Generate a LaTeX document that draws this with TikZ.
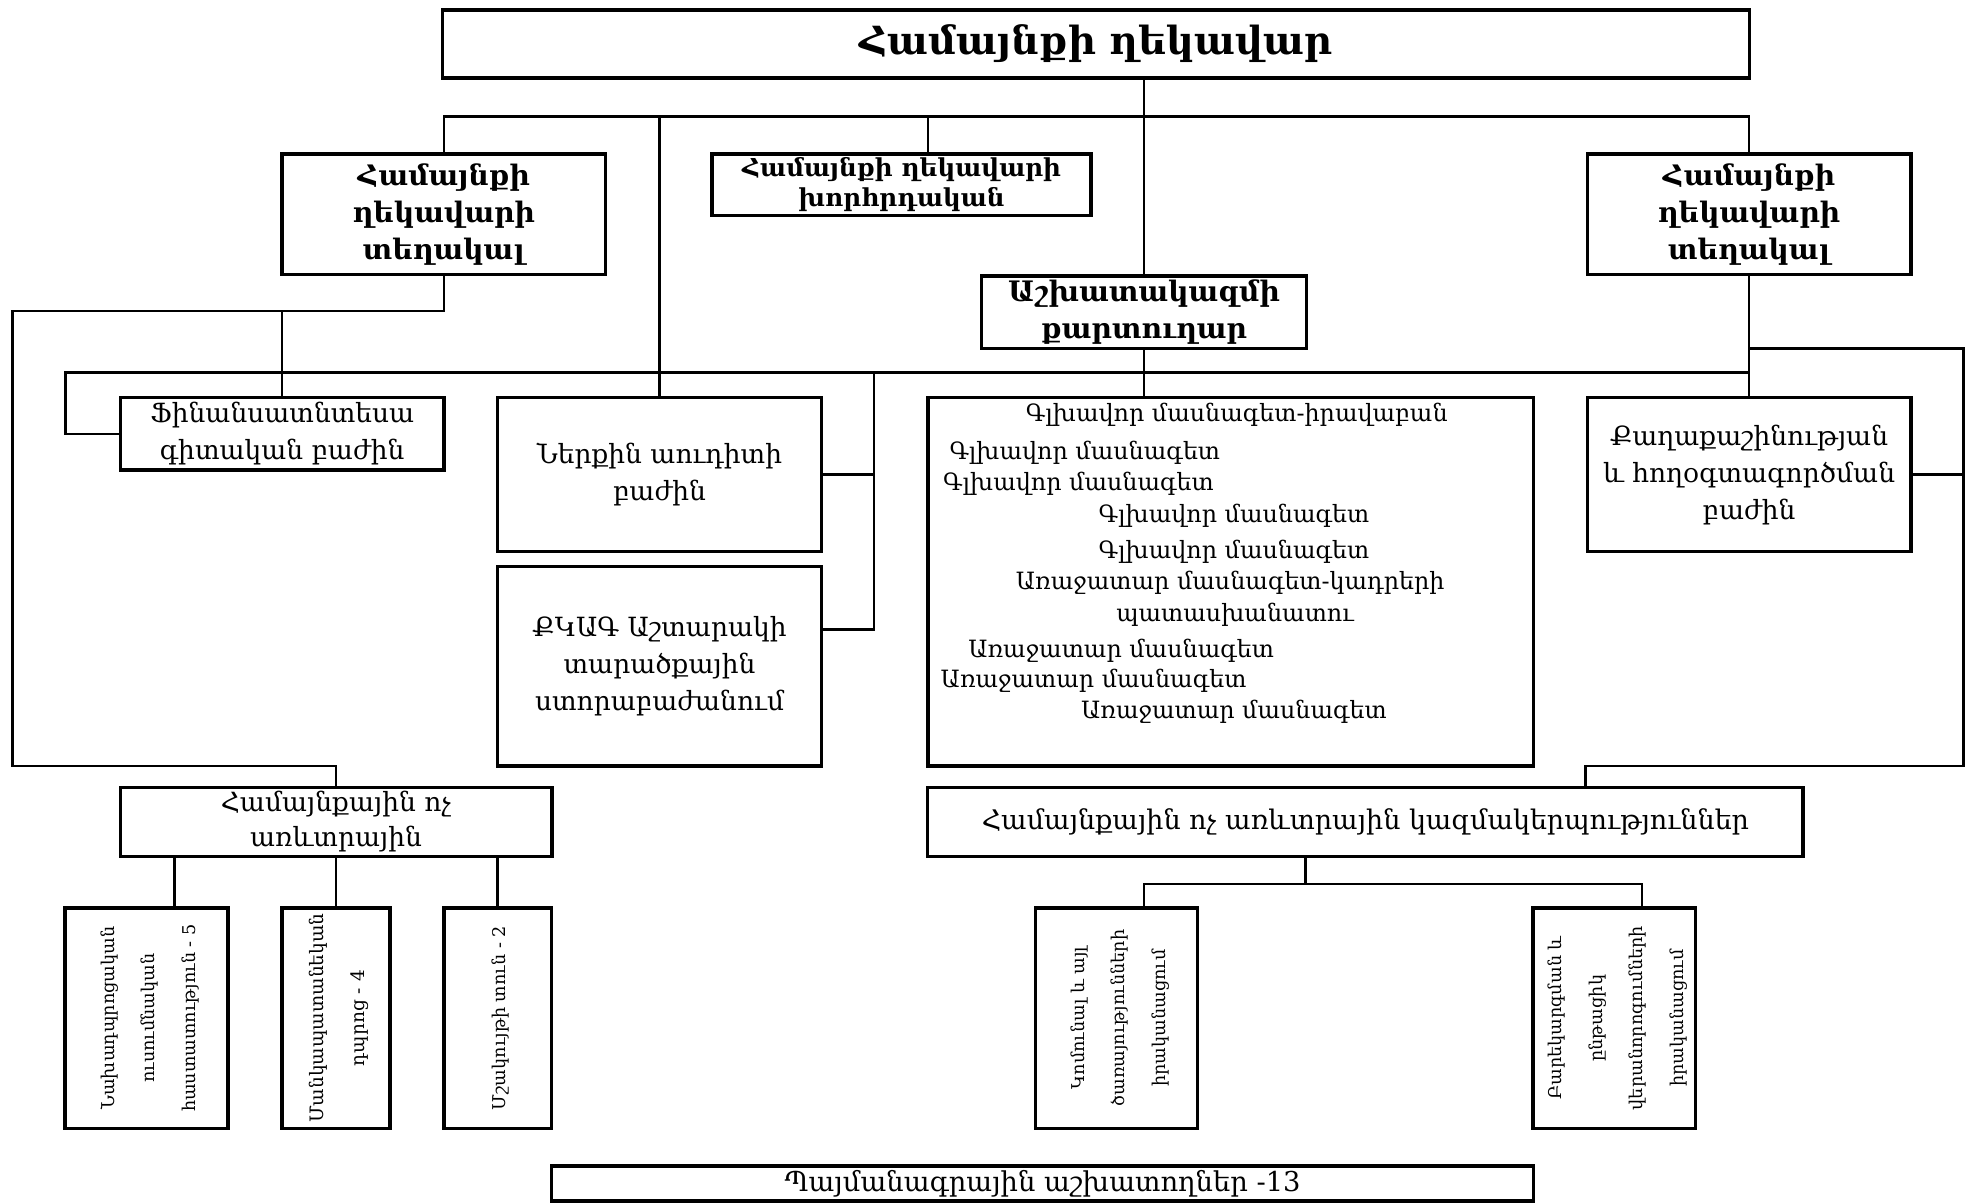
\documentclass[tikz,border=0pt]{standalone}
\usepackage{fontspec}
\setmainfont{DejaVu Serif}
\usetikzlibrary{positioning}

\newcommand{\uprot}[1]{\rotatebox{90}{\begin{tabular}{@{}c@{}}#1\end{tabular}}}

\begin{document}
\begin{tikzpicture}[x=0.025cm, y=-0.025cm,
    unitbox/.style={rectangle, draw=black, line width=2pt, inner sep=0pt, align=center, font=\fontsize{15}{21}\selectfont},
    headbox/.style={unitbox, font=\bfseries\fontsize{16}{21}\selectfont},
    vertbox/.style={unitbox, minimum height=4.4cm, font=\fontsize{10}{23}\selectfont},
    staffline/.style={anchor=west, inner sep=0pt, font=\fontsize{13.5}{16}\selectfont},
    link/.style={line width=1.5pt},
    thinlink/.style={line width=1pt}
    ]
    \useasboundingbox (0,0) rectangle (1568,960);

    %Nodes
    \node[headbox, minimum width=26.05cm, minimum height=1.35cm, font=\bfseries\fontsize{22}{26}\selectfont]
        (head) at (874,35) {Համայնքի ղեկավար};
    \node[headbox, minimum width=6.45cm, minimum height=2.4cm]
        (depL) at (354,171) {Համայնքի\\ղեկավարի\\տեղակալ};
    \node[headbox, minimum width=7.55cm, minimum height=1.225cm, font=\bfseries\fontsize{14}{17}\selectfont]
        (advisor) at (719,147.5) {Համայնքի ղեկավարի\\խորհրդական};
    \node[headbox, minimum width=6.45cm, minimum height=2.4cm]
        (depR) at (1395,171) {Համայնքի\\ղեկավարի\\տեղակալ};
    \node[headbox, minimum width=6.475cm, minimum height=1.45cm]
        (secretary) at (912.5,249) {Աշխատակազմի\\քարտուղար};

    \node[unitbox, minimum width=6.45cm, minimum height=1.45cm]
        (finance) at (225,346) {Ֆինանսատնտեսա\\գիտական բաժին};
    \node[unitbox, minimum width=6.45cm, minimum height=3.075cm]
        (audit) at (526,378.5) {Ներքին աուդիտի\\բաժին};
    \node[unitbox, minimum width=6.45cm, minimum height=3.975cm]
        (civreg) at (526,531.5) {ՔԿԱԳ Աշտարակի\\տարածքային\\ստորաբաժանում};
    \node[unitbox, minimum width=12.075cm, minimum height=7.35cm]
        (staff) at (981.5,464) {};
    \node[unitbox, minimum width=6.45cm, minimum height=3.075cm]
        (urban) at (1395,378.5) {Քաղաքաշինության\\և հողօգտագործման\\բաժին};

    \foreach \x/\y/\t [count=\i] in {
        818/331/Գլխավոր մասնագետ-իրավաբան,
        757/361/Գլխավոր մասնագետ,
        752/386/Գլխավոր մասնագետ,
        876/411/Գլխավոր մասնագետ,
        876/440/Գլխավոր մասնագետ,
        810/465/Առաջատար մասնագետ-կադրերի,
        890/490/պատասխանատու,
        772/519/Առաջատար մասնագետ,
        750/543/Առաջատար մասնագետ,
        862/568/Առաջատար մասնագետ}
        \node[staffline] (role\i) at (\x,\y) {\t};

    \node[unitbox, minimum width=8.6cm, minimum height=1.375cm, font=\fontsize{15}{20}\selectfont]
        (ncoL) at (268,655.5) {Համայնքային ոչ\\առևտրային};
    \node[unitbox, minimum width=17.45cm, minimum height=1.375cm, font=\fontsize{15.3}{20}\selectfont]
        (ncoR) at (1089,655.5) {Համայնքային ոչ առևտրային կազմակերպություններ};

    \node[vertbox, minimum width=3.25cm]
        (kinder) at (117,812) {\uprot{Նախադպրոցական\\ուսումնական\\հաստատություն - 5}};
    \node[vertbox, minimum width=2.15cm, font=\fontsize{10.5}{23}\selectfont]
        (youth) at (268,812) {\uprot{Մանկապատանեկան\\դպրոց - 4}};
    \node[vertbox, minimum width=2.15cm]
        (culture) at (397,812) {\uprot{Մշակույթի տուն - 2}};
    \node[vertbox, minimum width=3.225cm]
        (communal) at (890.5,812) {\uprot{Կոմունալ և այլ\\ծառայությունների\\իրականացում}};
    \node[vertbox, minimum width=3.225cm]
        (improve) at (1287.5,812) {\uprot{Բարեկարգման և\\ընթացիկ\\վերանորոգումների\\իրականացում}};

    \node[unitbox, minimum width=19.575cm, minimum height=0.7cm, font=\fontsize{15.5}{18}\selectfont]
        (contract) at (831.5,944) {Պայմանագրային աշխատողներ -13};

    %Lines
    \coordinate (topbus) at (0,93);
    \draw[link] (depL.north) -- (depL.north |- topbus) -- (depR.north |- topbus) -- (depR.north);
    \draw[link] ([xshift=0.525cm]advisor.north) -- ([xshift=0.525cm]advisor.north |- topbus);
    \draw[link] (audit.north) -- (audit.north |- topbus);
    \draw[link] (secretary.north) -- (secretary.north |- head.south);

    \coordinate (railLT) at (10,248);
    \coordinate (railLB) at (10,611);
    \draw[link] (depL.south) |- (railLT) -- (railLB) -| (ncoL.north);
    \draw[link] (finance.north) -- (finance.north |- railLT);

    \coordinate (midbus) at (52,297);
    \draw[link] (finance.west) -| (midbus) -- (urban.north |- midbus);
    \draw[link] (depR.south) -- (urban.north);
    \draw[link] (secretary.south) -- (secretary.south |- staff.north);
    \coordinate (innerrail) at (697,297);
    \draw[link] (audit.east) -| (innerrail);
    \draw[link] ([yshift=0.74cm]civreg.east) -| (innerrail);

    \coordinate (railRT) at (1566,278);
    \coordinate (railRB) at (1566,611);
    \draw[link] (depR.south |- railRT) -- (railRT) -- (railRB) -- (railRB -| urban.west) -- (urban.west |- ncoR.north);
    \draw[link] (urban.east) -- (urban.east -| railRT);

    \foreach \n/\dx in {kinder/0.55cm, youth/0cm, culture/0cm}
        \draw[link] ([xshift=\dx]\n.north) -- ([xshift=\dx]\n.north |- ncoL.south);

    \coordinate (fork) at (1041,705);
    \draw[link] (ncoR.south -| fork) -- (fork);
    \draw[thinlink] ([xshift=0.55cm]communal.north) |- (fork) -| ([xshift=0.55cm]improve.north);
\end{tikzpicture}
\end{document}
